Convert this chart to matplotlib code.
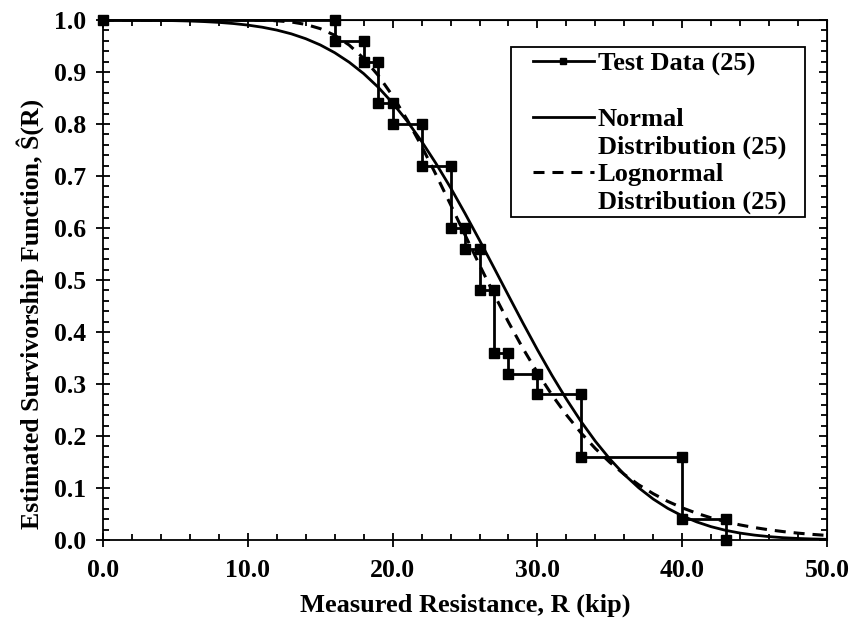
import matplotlib
matplotlib.use("Agg")
import matplotlib.pyplot as plt
from matplotlib.lines import Line2D
from matplotlib.patches import Rectangle
from matplotlib.ticker import MultipleLocator, FormatStrFormatter

# ---- data ----
# Kaplan-Meier style test data (step vertices)
test_r = [0, 16, 16, 18, 18, 19, 19, 20, 20, 22, 22, 24, 24, 25, 25, 26, 26,
          27, 27, 28, 28, 30, 30, 33, 33, 40, 40, 43, 43]
test_s = [1.00, 1.00, 0.96, 0.96, 0.92, 0.92, 0.84, 0.84, 0.80, 0.80, 0.72,
          0.72, 0.60, 0.60, 0.56, 0.56, 0.48, 0.48, 0.36, 0.36, 0.32, 0.32,
          0.28, 0.28, 0.16, 0.16, 0.04, 0.04, 0.00]

curve_r = list(range(0, 51))
normal_s = [1.0000, 0.9998, 0.9997, 0.9995, 0.9992, 0.9987, 0.9980, 0.9969,
            0.9954, 0.9932, 0.9902, 0.9861, 0.9806, 0.9734, 0.9640, 0.9521,
            0.9371, 0.9188, 0.8969, 0.8708, 0.8404, 0.8057, 0.7667, 0.7238,
            0.6776, 0.6280, 0.5765, 0.5235, 0.4701, 0.4172, 0.3658, 0.3168,
            0.2709, 0.2284, 0.1899, 0.1558, 0.1259, 0.1003, 0.0787, 0.0609,
            0.0464, 0.0348, 0.0256, 0.0186, 0.0133, 0.0094, 0.0065, 0.0044,
            0.0030, 0.0020, 0.0013]
lognormal_s = [1.0000, 1.0000, 1.0000, 1.0000, 1.0000, 1.0000, 1.0000, 1.0000,
               1.0000, 1.0000, 0.9999, 0.9995, 0.9985, 0.9962, 0.9915, 0.9834,
               0.9706, 0.9518, 0.9262, 0.8936, 0.8541, 0.8084, 0.7574, 0.7023,
               0.6451, 0.5867, 0.5289, 0.4727, 0.4189, 0.3684, 0.3218, 0.2791,
               0.2407, 0.2063, 0.1759, 0.1493, 0.1261, 0.1061, 0.0890, 0.0743,
               0.0619, 0.0514, 0.0426, 0.0352, 0.0290, 0.0239, 0.0196, 0.0161,
               0.0132, 0.0108, 0.0088]

plt.rcParams["font.family"] = ["Liberation Serif", "DejaVu Serif"]
plt.rcParams["font.weight"] = "bold"

fig = plt.figure(figsize=(8.55, 6.23), dpi=100)
ax = fig.add_axes([0.1205, 0.1332, 0.8468, 0.8347])

ax.plot(curve_r, lognormal_s, color="black", lw=2.2, ls=(0, (3.6, 2.6)))
ax.plot(curve_r, normal_s, color="black", lw=2.0, ls="-")
ax.plot(test_r, test_s, color="black", lw=2.0, marker="s", ms=6.5,
        clip_on=False, zorder=5)

ax.set_xlim(0, 50)
ax.set_ylim(0, 1.0)
ax.xaxis.set_major_locator(MultipleLocator(10))
ax.xaxis.set_minor_locator(MultipleLocator(2))
ax.yaxis.set_major_locator(MultipleLocator(0.1))
ax.yaxis.set_minor_locator(MultipleLocator(0.02))
ax.xaxis.set_major_formatter(FormatStrFormatter("%.1f"))
ax.yaxis.set_major_formatter(FormatStrFormatter("%.1f"))

ax.tick_params(which="major", direction="inout", length=10, width=1.3,
               labelsize=18.5)
ax.tick_params(axis="x", which="major", pad=9)
ax.tick_params(axis="y", which="major", pad=7)
ax.tick_params(which="minor", direction="in", length=4.5, width=1.3)
for s in ax.spines.values():
    s.set_linewidth(1.3)

# top / right ticks point inward only
secx = ax.secondary_xaxis("top")
secx.xaxis.set_major_locator(MultipleLocator(10))
secx.xaxis.set_minor_locator(MultipleLocator(2))
secx.tick_params(which="both", direction="in", labeltop=False, width=1.3)
secx.tick_params(which="major", length=6)
secx.tick_params(which="minor", length=4.5)
secy = ax.secondary_yaxis("right")
secy.yaxis.set_major_locator(MultipleLocator(0.1))
secy.yaxis.set_minor_locator(MultipleLocator(0.02))
secy.tick_params(which="both", direction="in", labelright=False, width=1.3)
secy.tick_params(which="major", length=6)
secy.tick_params(which="minor", length=4.5)

ax.set_xlabel("Measured Resistance, R (kip)", fontsize=19, fontweight="bold",
              labelpad=8)
ax.set_ylabel("Estimated Survivorship Function, Ŝ(R)", fontsize=18.5,
              fontweight="bold")
ax.yaxis.set_label_coords(-0.081, 0.435)

# legend frame drawn separately (wider side padding than matplotlib gives)
ax.add_patch(Rectangle((0.5635, 0.6212), 0.4061, 0.3269, transform=ax.transAxes,
                       facecolor="white", edgecolor="black", lw=1.3, zorder=6))

# legend: handles sit on the first line of wrapped labels
blank = Line2D([], [], color="none")
handles = [
    Line2D([], [], color="black", lw=2.0, marker="s", ms=4),
    blank,
    Line2D([], [], color="black", lw=2.0),
    blank,
    Line2D([], [], color="black", lw=2.2, ls=(0, (3.6, 2.6))),
    blank,
]
labels = ["Test Data (25)", " ", "Normal", "Distribution (25)",
          "Lognormal", "Distribution (25)"]
leg = ax.legend(handles, labels, loc="upper left",
                bbox_to_anchor=(0.594, 0.938), borderaxespad=0, borderpad=0,
                prop={"weight": "bold", "size": 19}, handlelength=2.3,
                handletextpad=0.15, labelspacing=0.15, frameon=False)
leg.set_zorder(7)

fig.savefig("out.png", dpi=100)
